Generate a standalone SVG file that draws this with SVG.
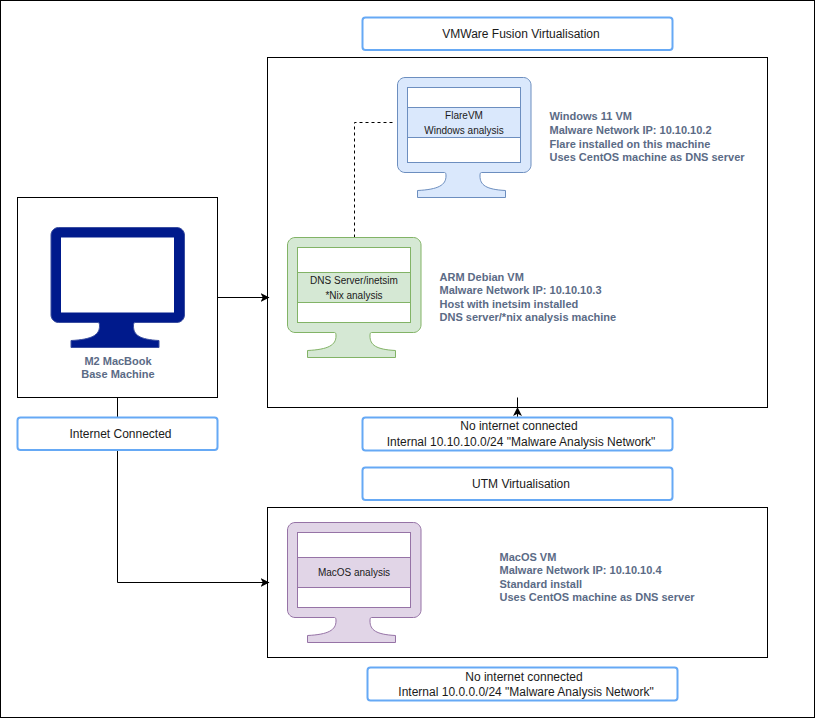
<svg xmlns="http://www.w3.org/2000/svg" width="815" height="718" viewBox="0 0 815 718">
<style>
text{font-family:"Liberation Sans",Arial,sans-serif;font-size:12px;fill:#1a1a1a;text-anchor:middle}
.in{font-size:10px}
.note{font-size:11px;font-weight:bold;fill:#5b6b86;text-anchor:start}
.mid{text-anchor:middle}
.box{fill:#fff;stroke:#000;stroke-width:1}
.lab{fill:#fff;stroke:#66a9f5;stroke-width:2}
.wire{fill:none;stroke:#000;stroke-width:1}
.blue{fill:#dae8fc;stroke:#6c8ebf}
.green{fill:#d5e8d4;stroke:#82b366}
.purple{fill:#e1d5e7;stroke:#9673a6}
.navy{fill:#001a8c;stroke:#3a4ea0}
.scr{fill:#fff}
</style>
<defs>
<path id="mon" d="M7.500 0H126c4 0 7.500 3.500 7.500 7.500V87.500c0 4-3.500 7.500-7.500 7.500H84c-1.500 0-1.500 2-1.500 3.500 0 9 6 13.500 25.500 14.500V120H20V113c21-1 28.500-5.500 28.500-14.500 0-1.500 0-3.500-1.500-3.500H7.500C3.500 95 0 91.500 0 87.500V7.500C0 3.500 3.500 0 7.500 0Z"/>
<marker id="arr" markerWidth="10" markerHeight="10" refX="8.500" refY="4.500" orient="auto" markerUnits="userSpaceOnUse"><path d="M0 0L9 4.500L0 9L2.300 4.500Z" fill="#000"/></marker>
</defs>
<rect x="0.500" y="0.500" width="814" height="717" fill="#fff" stroke="#000"/>
<g id="base-frame"><rect class="box" x="17.500" y="197.500" width="200" height="200"/></g>
<g id="vmware-frame"><rect class="box" x="267.500" y="57.500" width="500" height="350"/></g>
<g id="utm-frame"><rect class="box" x="267.500" y="507.500" width="500" height="150"/></g>
<g id="connectors">
<path class="wire" d="M217.500 297.500H269" marker-end="url(#arr)"/>
<path class="wire" d="M117.500 397.500V582.500H269" marker-end="url(#arr)"/>
<path class="wire" d="M517.500 417.500V407.500" marker-end="url(#arr)"/>
<path class="wire" d="M517.500 407.500V397.500"/>
<path class="wire" stroke-dasharray="3 3" d="M354.500 237.500V122.500H393"/>
</g>
<g id="base-machine">
<use href="#mon" class="navy" transform="translate(51,227.500)"/>
<rect class="scr" x="61" y="237.500" width="113" height="75"/>
<text class="note mid" x="118" y="364.500">M2 MacBook</text>
<text class="note mid" x="118" y="378">Base Machine</text>
</g>
<g id="flarevm">
<use href="#mon" class="blue" transform="translate(397.500,77.500)"/>
<rect class="scr" x="407.500" y="87.500" width="113" height="75" stroke="#6c8ebf"/>
<rect class="blue" x="407.500" y="107.500" width="113" height="30"/>
<text class="in" x="464" y="119">FlareVM</text><text class="in" x="464" y="134">Windows analysis</text>
</g>
<g id="flarevm-note">
<text class="note" x="549.500" y="120">Windows 11 VM</text>
<text class="note" x="549.500" y="133.500">Malware Network IP: 10.10.10.2</text>
<text class="note" x="549.500" y="147.500">Flare installed on this machine</text>
<text class="note" x="549.500" y="160.500">Uses CentOS machine as DNS server</text>
</g>
<g id="debian">
<use href="#mon" class="green" transform="translate(287.500,237.500)"/>
<rect class="scr" x="297.500" y="247.500" width="113" height="75" stroke="#82b366"/>
<rect class="green" x="297.500" y="272.500" width="113" height="30"/>
<text class="in" x="354" y="284">DNS Server/inetsim</text><text class="in" x="354" y="299">*Nix analysis</text>
</g>
<g id="debian-note">
<text class="note" x="439.500" y="280.500">ARM Debian VM</text>
<text class="note" x="439.500" y="294">Malware Network IP: 10.10.10.3</text>
<text class="note" x="439.500" y="307.500">Host with inetsim installed</text>
<text class="note" x="439.500" y="320.500">DNS server/*nix analysis machine</text>
</g>
<g id="macos">
<use href="#mon" class="purple" transform="translate(287.500,522.500)"/>
<rect class="scr" x="297.500" y="532.500" width="113" height="75" stroke="#9673a6"/>
<rect class="purple" x="297.500" y="557.500" width="113" height="30"/>
<text class="in" x="354" y="576">MacOS analysis</text>
</g>
<g id="macos-note">
<text class="note" x="499.500" y="560.500">MacOS VM</text>
<text class="note" x="499.500" y="574">Malware Network IP: 10.10.10.4</text>
<text class="note" x="499.500" y="587.500">Standard install</text>
<text class="note" x="499.500" y="600.500">Uses CentOS machine as DNS server</text>
</g>
<g id="label-vmware"><rect class="lab" x="362.500" y="17.500" width="310" height="32.500" rx="3"/><text x="521" y="38">VMWare Fusion Virtualisation</text></g>
<g id="label-internet"><rect class="lab" x="17.500" y="417.500" width="200" height="32.500" rx="3"/><text x="120.500" y="438">Internet Connected</text></g>
<g id="label-internal"><rect class="lab" x="362.500" y="417.500" width="310" height="33" rx="3"/><text x="519" y="430">No internet connected</text><text x="521" y="446"> Internal 10.10.10.0/24 "Malware Analysis Network"</text></g>
<g id="label-utm"><rect class="lab" x="362.500" y="467.500" width="310" height="32.500" rx="3"/><text x="521" y="488">UTM Virtualisation</text></g>
<g id="label-internal2"><rect class="lab" x="367.500" y="667.500" width="310" height="33" rx="3"/><text x="524" y="681">No internet connected</text><text x="526" y="696"> Internal 10.0.0.0/24 "Malware Analysis Network"</text></g>
</svg>
